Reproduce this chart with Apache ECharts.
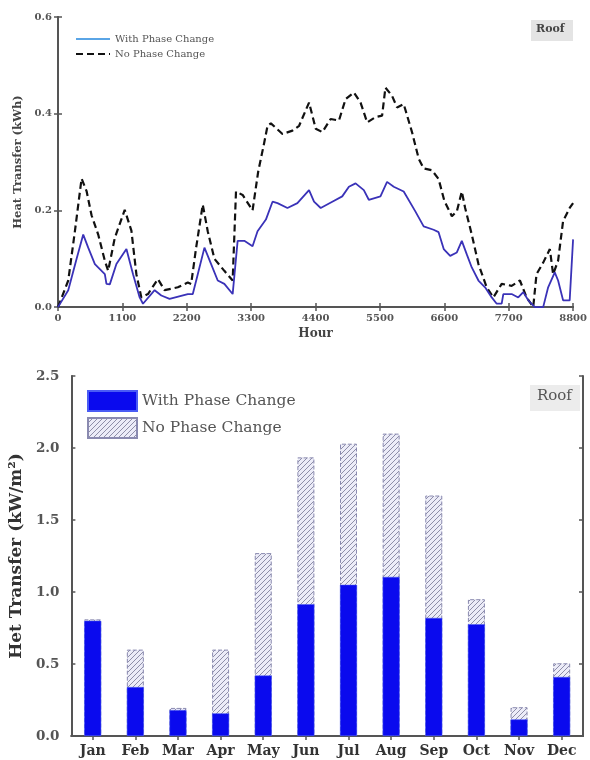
<!DOCTYPE html>
<html>
<head>
<meta charset="utf-8">
<script src="https://cdn.jsdelivr.net/npm/echarts@6/dist/echarts.min.js"></script>
<style>
  html, body { margin: 0; padding: 0; background: #fff; }
  #hourly { position: absolute; left: 0; top: 0; width: 590px; height: 345px; }
  #monthly { position: absolute; left: 0; top: 345px; width: 590px; height: 415px; }
</style>
</head>
<body>
<div id="hourly"></div>
<div id="monthly"></div>
<script>
// hourly roof heat transfer (kWh)
const withPcmHours = [0, 175, 318, 431, 516, 630, 800, 828, 885, 998, 1169, 1282, 1395, 1452, 1651, 1765, 1906, 2218, 2303, 2388, 2502, 2616, 2729, 2842, 2984, 3069, 3183, 3324, 3409, 3552, 3665, 3750, 3920, 4090, 4289, 4374, 4488, 4686, 4856, 4970, 5084, 5225, 5310, 5509, 5622, 5736, 5906, 6105, 6247, 6417, 6502, 6590, 6700, 6814, 6899, 6984, 7069, 7183, 7296, 7410, 7495, 7580, 7608, 7750, 7863, 7949, 8034, 8147, 8289, 8374, 8487, 8544, 8629, 8742, 8800];
const withPcmValues = [0, 0.035, 0.10, 0.15, 0.123, 0.089, 0.068, 0.048, 0.047, 0.089, 0.12, 0.068, 0.02, 0.007, 0.035, 0.024, 0.017, 0.027, 0.027, 0.068, 0.123, 0.089, 0.055, 0.048, 0.027, 0.137, 0.137, 0.126, 0.157, 0.181, 0.218, 0.215, 0.205, 0.215, 0.242, 0.218, 0.205, 0.218, 0.229, 0.249, 0.256, 0.242, 0.222, 0.229, 0.259, 0.249, 0.239, 0.198, 0.167, 0.16, 0.155, 0.12, 0.106, 0.113, 0.137, 0.109, 0.082, 0.055, 0.041, 0.02, 0.007, 0.007, 0.027, 0.027, 0.02, 0.031, 0.014, 0, 0, 0.041, 0.072, 0.055, 0.014, 0.014, 0.14];

const noPcmHours = [0, 175, 290, 403, 488, 573, 687, 800, 857, 970, 1140, 1254, 1339, 1424, 1537, 1707, 1821, 2048, 2218, 2275, 2360, 2473, 2558, 2672, 2842, 2984, 3041, 3154, 3324, 3420, 3523, 3580, 3637, 3835, 4005, 4119, 4289, 4403, 4516, 4658, 4800, 4913, 5055, 5169, 5282, 5424, 5537, 5594, 5707, 5793, 5906, 6048, 6162, 6247, 6388, 6502, 6600, 6729, 6814, 6899, 6956, 7069, 7183, 7324, 7438, 7580, 7750, 7892, 8005, 8119, 8175, 8289, 8403, 8459, 8544, 8629, 8742, 8800];
const noPcmValues = [0, 0.055, 0.158, 0.266, 0.24, 0.19, 0.15, 0.096, 0.075, 0.143, 0.201, 0.158, 0.068, 0.02, 0.027, 0.058, 0.035, 0.041, 0.051, 0.048, 0.123, 0.212, 0.157, 0.10, 0.075, 0.055, 0.239, 0.232, 0.20, 0.28, 0.34, 0.375, 0.38, 0.358, 0.365, 0.375, 0.423, 0.369, 0.362, 0.389, 0.386, 0.43, 0.444, 0.423, 0.382, 0.393, 0.396, 0.454, 0.437, 0.413, 0.42, 0.362, 0.307, 0.287, 0.283, 0.265, 0.22, 0.188, 0.198, 0.239, 0.205, 0.15, 0.089, 0.041, 0.02, 0.048, 0.044, 0.055, 0.02, 0, 0.068, 0.092, 0.12, 0.068, 0.096, 0.178, 0.205, 0.215];

// monthly roof heat transfer (kW/m2)
const months = ["Jan", "Feb", "Mar", "Apr", "May", "Jun", "Jul", "Aug", "Sep", "Oct", "Nov", "Dec"];
const withPcmMonthly = [0.80, 0.34, 0.18, 0.157, 0.42, 0.915, 1.05, 1.105, 0.82, 0.776, 0.115, 0.41];
const noPcmMonthly = [0.81, 0.60, 0.195, 0.60, 1.27, 1.935, 2.03, 2.10, 1.67, 0.95, 0.20, 0.505];

const serif = "DejaVu Serif";
const axisColor = "#555";

function zip(xs, ys) {
  return xs.map((x, i) => [x, ys[i]]);
}

// diagonal hatch fill
function hatch() {
  const c = document.createElement("canvas");
  c.width = 5;
  c.height = 5;
  const ctx = c.getContext("2d");
  ctx.fillStyle = "#ececf8";
  ctx.fillRect(0, 0, 5, 5);
  ctx.strokeStyle = "#8e8ea8";
  ctx.lineWidth = 1;
  ctx.beginPath();
  ctx.moveTo(0, 5); ctx.lineTo(5, 0);
  ctx.moveTo(-1, 1); ctx.lineTo(1, -1);
  ctx.moveTo(4, 6); ctx.lineTo(6, 4);
  ctx.stroke();
  return c;
}

function frameAxis(extra) {
  return Object.assign({
    axisLine: { show: true, lineStyle: { color: axisColor, width: 2 } },
    axisTick: { show: true, inside: true, length: 4, lineStyle: { color: axisColor, width: 1.5 } },
    splitLine: { show: false }
  }, extra);
}

// ---------- top: hourly lines ----------
let hourChart = echarts.init(document.getElementById("hourly"));
hourChart.setOption({
  animation: false,
  grid: { left: 58, top: 17, width: 517, height: 293 },
  legend: {
    left: 70,
    top: 29,
    orient: "vertical",
    itemWidth: 34,
    itemHeight: 10,
    itemGap: 5,
    itemStyle: { opacity: 0 },
    textStyle: { fontFamily: serif, fontSize: 10, color: "#555" },
    data: [
      { name: "With Phase Change", itemStyle: { opacity: 0 }, lineStyle: { color: "#5aa5e6", width: 2 } },
      { name: "No Phase Change", itemStyle: { opacity: 0 } }
    ]
  },
  xAxis: [
    frameAxis({
      type: "value", min: 0, max: 8800, interval: 1100,
      name: "Hour", nameLocation: "middle", nameGap: 19,
      nameTextStyle: { fontFamily: serif, fontWeight: "bold", fontSize: 12, color: "#444" },
      axisLabel: { fontFamily: serif, fontWeight: "bold", fontSize: 10, color: axisColor, margin: 6, formatter: v => String(v) }
    }),
    frameAxis({ type: "value", position: "top", min: 0, max: 8800, interval: 1100, axisLabel: { show: false } })
  ],
  yAxis: [
    frameAxis({
      type: "value", min: 0, max: 0.6, interval: 0.2,
      name: "Heat Transfer (kWh)", nameLocation: "middle", nameGap: 32,
      nameTextStyle: { fontFamily: serif, fontWeight: "bold", fontSize: 11.5, color: "#444" },
      axisLabel: { fontFamily: serif, fontWeight: "bold", fontSize: 10, color: axisColor, margin: 6, formatter: v => v.toFixed(1) }
    }),
    frameAxis({ type: "value", position: "right", min: 0, max: 0.6, interval: 0.2, axisLabel: { show: false } })
  ],
  graphic: [
    { type: "rect", left: 531, top: 20, shape: { width: 42, height: 21 }, style: { fill: "#e4e4e4" } },
    { type: "text", left: 536, top: 24, style: { text: "Roof", font: "bold 11px 'DejaVu Serif'", fill: "#444" } }
  ],
  series: [
    {
      name: "With Phase Change",
      type: "line",
      data: zip(withPcmHours, withPcmValues),
      symbol: "none",
      lineStyle: { color: "#3a32b8", width: 1.8 },
      itemStyle: { color: "#3a32b8" },
      z: 3
    },
    {
      name: "No Phase Change",
      type: "line",
      data: zip(noPcmHours, noPcmValues),
      symbol: "none",
      lineStyle: { color: "#111", width: 2.2, type: [7, 4] },
      itemStyle: { color: "#111" },
      z: 2
    }
  ]
});

// ---------- bottom: monthly bars ----------
let monthChart = echarts.init(document.getElementById("monthly"));
const hatchFill = { image: hatch(), repeat: "repeat" };
monthChart.setOption({
  animation: false,
  grid: { left: 70, top: 31, width: 513, height: 360 },
  legend: {
    left: 82,
    top: 40,
    orient: "vertical",
    itemWidth: 49,
    itemHeight: 20,
    itemGap: 5,
    icon: "rect",
    textStyle: { fontFamily: serif, fontSize: 15.5, color: "#555" },
    data: ["With Phase Change", "No Phase Change"]
  },
  xAxis: [
    frameAxis({
      type: "category", data: months,
      axisTick: { show: true, inside: true, length: 4, alignWithLabel: true, lineStyle: { color: axisColor, width: 1.5 } },
      axisLabel: { fontFamily: serif, fontWeight: "bold", fontSize: 14, color: "#333", margin: 8, interval: 0 }
    }),
    frameAxis({
      type: "category", position: "top", data: months,
      axisTick: { show: true, inside: true, length: 4, alignWithLabel: true, lineStyle: { color: axisColor, width: 1.5 } },
      axisLabel: { show: false }
    })
  ],
  yAxis: [
    frameAxis({
      type: "value", min: 0, max: 2.5, interval: 0.5,
      name: "Het Transfer (kW/m²)", nameLocation: "middle", nameGap: 40,
      nameTextStyle: { fontFamily: serif, fontWeight: "bold", fontSize: 17, color: "#333" },
      axisLabel: { fontFamily: serif, fontWeight: "bold", fontSize: 13.5, color: axisColor, margin: 12, formatter: v => v.toFixed(1) }
    }),
    frameAxis({ type: "value", position: "right", min: 0, max: 2.5, interval: 0.5, axisLabel: { show: false } })
  ],
  graphic: [
    { type: "rect", left: 530, top: 40, shape: { width: 50, height: 26 }, style: { fill: "#ececec" } },
    { type: "text", left: 537, top: 44, style: { text: "Roof", font: "15px 'DejaVu Serif'", fill: "#555" } }
  ],
  series: [
    {
      name: "No Phase Change",
      type: "bar",
      data: noPcmMonthly,
      barWidth: 17,
      itemStyle: { color: hatchFill, borderColor: "#8a8ab0", borderWidth: 1, borderType: "dashed" }
    },
    {
      name: "With Phase Change",
      type: "bar",
      data: withPcmMonthly,
      barWidth: 17,
      barGap: "-100%",
      itemStyle: { color: "#0a0aee", borderColor: "#4a5cf5", borderWidth: 0.5 }
    }
  ]
});
</script>
</body>
</html>
